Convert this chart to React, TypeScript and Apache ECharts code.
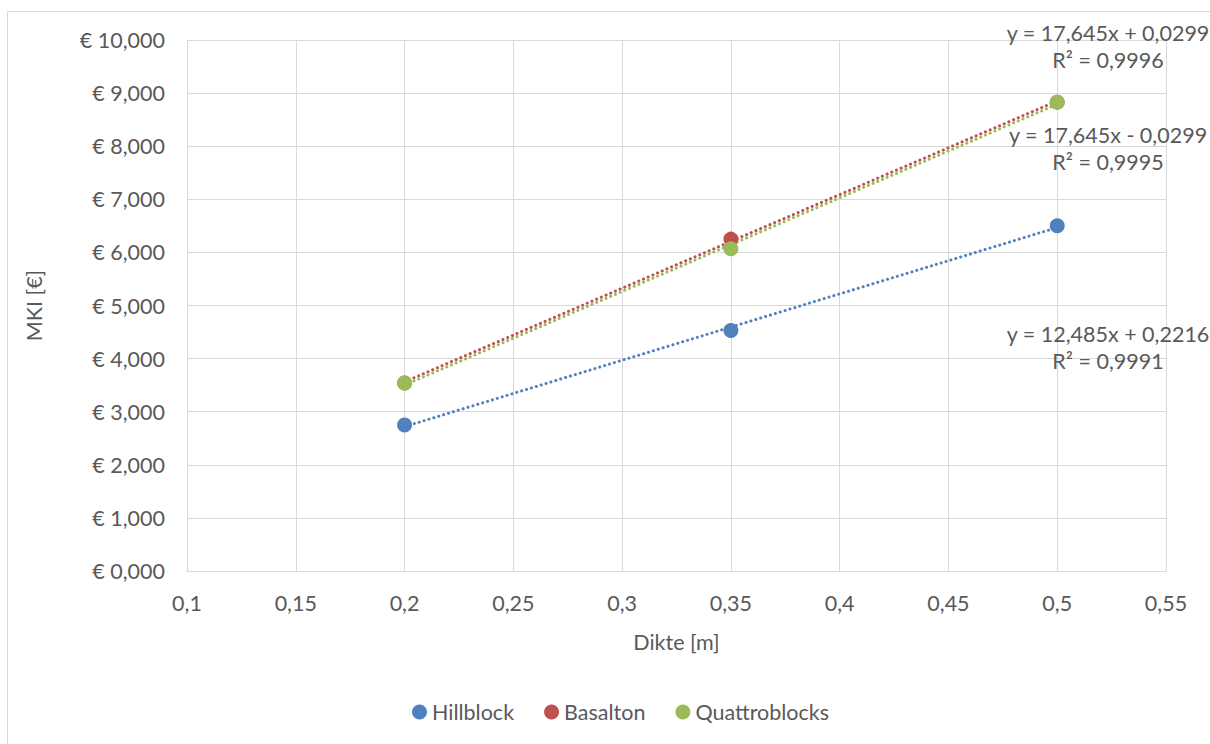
import React, { useEffect, useRef } from "react";
import * as echarts from "echarts";

const xValues = [0.2, 0.35, 0.5];
const hillblock = [2.75, 4.53, 6.5];
const basalton = [3.54, 6.25, 8.83];
const quattroblocks = [3.54, 6.07, 8.83];
const seriesNames = ["Hillblock", "Basalton", "Quattroblocks"];
const colors = ["#4F81BD", "#C0504D", "#9BBB59"];
const trendLabels = [
  ["y = 12,485x + 0,2216", "R² = 0,9991"],
  ["y = 17,645x + 0,0299", "R² = 0,9996"],
  ["y = 17,645x - 0,0299", "R² = 0,9995"],
];

const FONT = "Lato, 'Noto Sans', sans-serif";
const TXT = "#595959";
const FS = 21.5;

function fit(xs: number[], ys: number[]) {
  const n = xs.length;
  const mx = xs.reduce((a, b) => a + b, 0) / n;
  const my = ys.reduce((a, b) => a + b, 0) / n;
  let sxy = 0, sxx = 0;
  for (let i = 0; i < n; i++) {
    sxy += (xs[i] - mx) * (ys[i] - my);
    sxx += (xs[i] - mx) * (xs[i] - mx);
  }
  const m = sxy / sxx;
  const b = my - m * mx;
  return [xs[0], xs[n - 1]].map((x) => [x, m * x + b]);
}

export default function App() {
  const ref = useRef<HTMLDivElement>(null);
  useEffect(() => {
    const chart = echarts.init(ref.current!, undefined, { renderer: "svg" });
    const all = [hillblock, basalton, quattroblocks];
    const trendSeries = all.map((ys, i) => ({
      type: "line",
      name: seriesNames[i] + " trend",
      data: fit(xValues, ys),
      showSymbol: false,
      symbol: "none",
      lineStyle: { color: colors[i], width: 3, type: [0.1, 5], cap: "round" },
      z: 2,
      silent: true,
    }));
    const scatterSeries = all.map((ys, i) => ({
      type: "scatter",
      name: seriesNames[i],
      data: xValues.map((x, j) => [x, ys[j]]),
      symbol: "circle",
      symbolSize: 15,
      itemStyle: { color: colors[i], opacity: 1 },
      z: 3,
    }));
    const labelPos = [{ y: 334 }, { y: 33 }, { y: 135 }];
    const graphics: any[] = [
      {
        type: "rect",
        shape: { x: 7.5, y: 11.5, width: 1220, height: 760 },
        style: { fill: "none", stroke: "#d9d9d9", lineWidth: 1 },
        z: -1,
      },
    ];
    trendLabels.forEach((lines, i) => {
      lines.forEach((t, k) => {
        graphics.push({
          type: "text",
          x: 1108,
          y: labelPos[i].y + k * 27,
          style: {
            text: t,
            fill: TXT,
            font: `${FS}px ${FONT}`,
            textAlign: "center",
            textVerticalAlign: "middle",
          },
          z: 10,
        });
      });
    });
    chart.setOption({
      animation: false,
      textStyle: { fontFamily: FONT },
      grid: { left: 187, right: 44, top: 40, bottom: 173 },
      legend: {
        data: seriesNames,
        bottom: 16,
        left: 407,
        icon: "circle",
        itemWidth: 15,
        itemHeight: 15,
        itemGap: 30,
        textStyle: { color: TXT, fontSize: FS, fontFamily: FONT },
      },
      xAxis: {
        type: "value",
        min: 0.1,
        max: 0.55,
        interval: 0.05,
        name: "Dikte [m]",
        nameLocation: "middle",
        nameGap: 60,
        nameTextStyle: { color: TXT, fontSize: FS, fontFamily: FONT },
        axisLine: { show: true, lineStyle: { color: "#d9d9d9" } },
        axisTick: { show: false },
        splitLine: { show: true, lineStyle: { color: "#d9d9d9" } },
        axisLabel: {
          color: TXT,
          fontSize: FS,
          margin: 21,
          formatter: (v: number) => String(Math.round(v * 100) / 100).replace(".", ","),
        },
      },
      yAxis: {
        type: "value",
        min: 0,
        max: 10,
        interval: 1,
        name: "MKI [€]",
        nameLocation: "middle",
        nameGap: 142,
        nameTextStyle: { color: TXT, fontSize: FS, fontFamily: FONT },
        axisLine: { show: true, lineStyle: { color: "#d9d9d9" } },
        axisTick: { show: false },
        splitLine: { show: true, lineStyle: { color: "#d9d9d9" } },
        axisLabel: {
          color: TXT,
          fontSize: FS,
          margin: 22,
          formatter: (v: number) => `€ ${v},000`,
        },
      },
      series: [...trendSeries, ...scatterSeries],
      graphic: graphics,
    });
    return () => chart.dispose();
  }, []);
  return (
    <div
      ref={ref}
      style={{ position: "fixed", left: 0, top: 0, width: 1210, height: 744, background: "#fff" }}
    />
  );
}
